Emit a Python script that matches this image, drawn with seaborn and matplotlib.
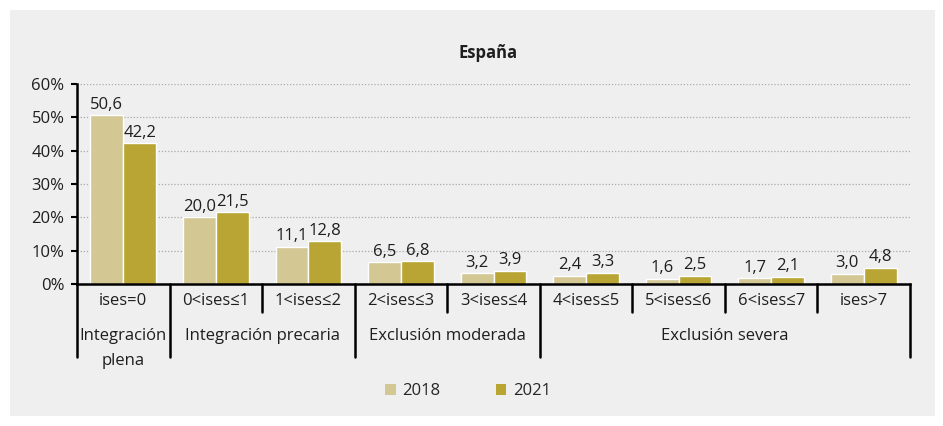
import matplotlib
matplotlib.use("Agg")
import matplotlib.pyplot as plt
import matplotlib.patches as mpatches
import matplotlib.transforms as mtrans
import seaborn as sns
import pandas as pd

categories = ["ises=0", "0<ises≤1", "1<ises≤2", "2<ises≤3", "3<ises≤4",
              "4<ises≤5", "5<ises≤6", "6<ises≤7", "ises>7"]
values_2018 = [50.6, 20.0, 11.1, 6.5, 3.2, 2.4, 1.6, 1.7, 3.0]
values_2021 = [42.2, 21.5, 12.8, 6.8, 3.9, 3.3, 2.5, 2.1, 4.8]
years = ["2018", "2021"]
groups = ["Integración\nplena", "Integración precaria", "Exclusión moderada", "Exclusión severa"]
group_spans = [(0, 0), (1, 2), (3, 4), (5, 8)]
yticks = [0, 10, 20, 30, 40, 50, 60]
title = "España"

sns.set_theme(style="white")
plt.rcParams["font.family"] = ["Open Sans", "DejaVu Sans"]
FS = 12
TXT = "#1e1e1e"

W, H = 943, 426
fig = plt.figure(figsize=(W / 100, H / 100), dpi=100)
fig.patch.set_facecolor("white")
bg = "#efefef"
fig.add_artist(mpatches.Rectangle((10 / W, 10 / H), 925 / W, 406 / H,
                                  transform=fig.transFigure, facecolor=bg,
                                  edgecolor="none", zorder=0))

ax = fig.add_axes([77 / W, (H - 284) / H, (910 - 77) / W, 200 / H])
ax.set_facecolor(bg)

df = pd.DataFrame({
    "cat": categories * 2,
    "year": [years[0]] * len(categories) + [years[1]] * len(categories),
    "val": values_2018 + values_2021,
})
palette = {"2018": "#d3c793", "2021": "#b9a533"}
sns.barplot(data=df, x="cat", y="val", hue="year", order=categories,
            hue_order=years, palette=palette, width=0.71, ax=ax,
            saturation=1, legend=False, zorder=3)

for cont in ax.containers:
    labs = [f"{b.get_height():.1f}".replace(".", ",") for b in cont]
    ax.bar_label(cont, labels=labs, padding=2, fontsize=FS, color=TXT)

ax.set_ylim(0, 60)
ax.set_xlim(-0.5, len(categories) - 0.5)
ax.set_yticks(yticks)
ax.set_yticklabels([f"{t}%" for t in yticks], fontsize=FS, color=TXT)
ax.tick_params(axis="y", which="both", left=True, length=4, width=1.5, color="black", pad=5)
ax.set_xticks([])
ax.set_xlabel("")
ax.set_ylabel("")
for t in yticks[1:]:
    ax.axhline(t, color="#aaaaaa", lw=0.9, ls=(0, (1, 1.5)), zorder=1)

for s in ["top", "right"]:
    ax.spines[s].set_visible(False)
ax.spines["left"].set_color("black")
ax.spines["left"].set_linewidth(1.8)
ax.spines["bottom"].set_color("black")
ax.spines["bottom"].set_linewidth(1.8)
ax.spines["bottom"].set_zorder(5)

px_per_ax = 200.0
blend = mtrans.blended_transform_factory(ax.transData, ax.transAxes)
long_bounds = set()
for a, b in group_spans:
    long_bounds.add(a - 0.5)
    long_bounds.add(b + 0.5)
for i in range(len(categories) + 1):
    xb = i - 0.5
    depth = 73 if xb in long_bounds else 28
    ax.plot([xb, xb], [0, -depth / px_per_ax], color="black", lw=1.8,
            transform=blend, clip_on=False, zorder=5)

for i, c in enumerate(categories):
    ax.text(i, -17 / px_per_ax, c, ha="center", va="center", fontsize=FS,
            color=TXT, transform=blend)

for g, (a, b) in zip(groups, group_spans):
    if "\n" in g:
        l1, l2 = g.split("\n")
        ax.text((a + b) / 2, -52 / px_per_ax, l1, ha="center", va="center",
                fontsize=FS, color=TXT, transform=blend)
        ax.text((a + b) / 2, -77 / px_per_ax, l2, ha="center", va="center",
                fontsize=FS, color=TXT, transform=blend)
    else:
        ax.text((a + b) / 2, -52 / px_per_ax, g, ha="center", va="center",
                fontsize=FS, color=TXT, transform=blend)

fig.text(488 / W, 1 - 53 / H, title, ha="center", va="center", fontsize=FS,
         fontweight="bold", color=TXT)

handles = [mpatches.Patch(facecolor=palette[y], edgecolor="none") for y in years]
fig.legend(handles, years, loc="center", bbox_to_anchor=(468 / W, 1 - 391 / H),
           ncol=2, frameon=False, fontsize=FS, handlelength=0.65, handleheight=0.65,
           handletextpad=0.4, columnspacing=3.3)

fig.savefig("out.png", dpi=100, facecolor=fig.get_facecolor())
